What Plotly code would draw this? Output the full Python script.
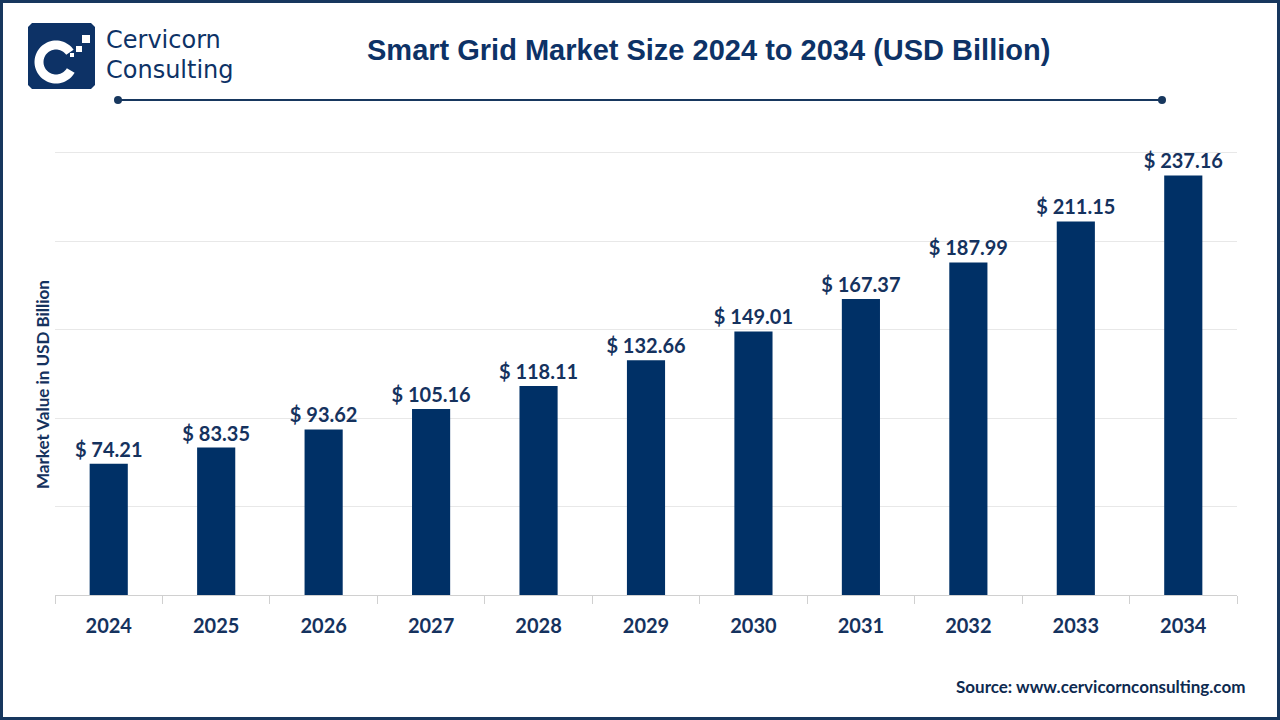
import numpy as np
import plotly.graph_objects as go

years = ["2024", "2025", "2026", "2027", "2028", "2029", "2030", "2031", "2032", "2033", "2034"]
values = [74.21, 83.35, 93.62, 105.16, 118.11, 132.66, 149.01, 167.37, 187.99, 211.15, 237.16]
labels = ["$ " + f"{v:.2f}" for v in values]

W, H = 1280, 720
L, R, T, B = 55, 1237, 151, 595
YMAX = 251
NAVY = "#003066"
TXT = "#15325e"


def px(x):
    return (x - L) / (R - L)


def py(y):
    return (B - y) / (B - T)


fig = go.Figure()
fig.add_trace(go.Bar(
    x=years, y=values, text=labels, textposition="outside", constraintext="none",
    textfont=dict(family="Lato", size=20, color=TXT, weight="bold"),
    marker=dict(color=NAVY, line=dict(width=0)), width=0.355,
    cliponaxis=False, hoverinfo="skip",
))

shapes = []
# outer frame
shapes.append(dict(type="rect", xref="paper", yref="paper", x0=px(1.5), x1=px(1278.5), y0=py(718.5), y1=py(1.5),
                   line=dict(color="#17375e", width=3), layer="above"))
# title underline with dots
shapes.append(dict(type="line", xref="paper", yref="paper", x0=px(118), x1=px(1162), y0=py(100), y1=py(100),
                   line=dict(color="#17375e", width=2)))
for cx in (118, 1162):
    shapes.append(dict(type="circle", xref="paper", yref="paper", x0=px(cx - 4), x1=px(cx + 4), y0=py(104), y1=py(96),
                       fillcolor="#17375e", line=dict(width=0)))

# logo square (rounded)
x0, y0, x1, y1, r = 28, 23, 95, 89, 4
pts = [(x0 + r, y0), (x1 - r, y0), (x1, y0 + r), (x1, y1 - r), (x1 - r, y1), (x0 + r, y1), (x0, y1 - r), (x0, y0 + r)]
path = "M " + " L ".join(f"{px(a)},{py(b)}" for a, b in pts) + " Z"
shapes.append(dict(type="path", xref="paper", yref="paper", path=path, fillcolor="#0d3266", line=dict(width=0)))

# C arc
cx, cy, rad = 56, 62, 17
ang = np.linspace(np.deg2rad(35), np.deg2rad(330), 60)
outer = [(cx + (rad + 4.5) * np.cos(a), cy - (rad + 4.5) * np.sin(a)) for a in ang]
inner = [(cx + (rad - 4.5) * np.cos(a), cy - (rad - 4.5) * np.sin(a)) for a in ang[::-1]]
cp = outer + inner
path = "M " + " L ".join(f"{px(a)},{py(b)}" for a, b in cp) + " Z"
shapes.append(dict(type="path", xref="paper", yref="paper", path=path, fillcolor="white", line=dict(width=0)))
for (a, b, s) in [(82, 35, 8), (76, 46, 6), (70, 53, 4)]:
    shapes.append(dict(type="rect", xref="paper", yref="paper", x0=px(a), x1=px(a + s), y0=py(b + s), y1=py(b),
                       fillcolor="white", line=dict(width=0)))

annotations = [
    dict(text="Smart Grid Market Size 2024 to 2034 (USD Billion)", x=px(708), y=py(50), xref="paper", yref="paper",
         showarrow=False, xanchor="center", yanchor="middle",
         font=dict(family="Liberation Sans", size=29, color="#0d3266", weight="bold")),
    dict(text="Cervicorn", x=px(105), y=py(55), xref="paper", yref="paper", showarrow=False,
         xanchor="left", yanchor="bottom", borderpad=0,
         font=dict(family="DejaVu Sans", size=24, color="#0d3266")),
    dict(text="Consulting", x=px(105), y=py(55), xref="paper", yref="paper", showarrow=False,
         xanchor="left", yanchor="top", borderpad=0,
         font=dict(family="DejaVu Sans", size=24, color="#0d3266")),
    dict(text="Market Value in USD Billion", x=px(42), y=py(385), xref="paper", yref="paper",
         showarrow=False, xanchor="center", yanchor="middle", textangle=-90,
         font=dict(family="Lato", size=17, color=TXT, weight="bold")),
    dict(text="Source: www.cervicornconsulting.com", x=px(1247), y=py(686), xref="paper", yref="paper",
         showarrow=False, xanchor="right", yanchor="middle",
         font=dict(family="Lato", size=17, color="#0d2a50", weight="bold")),
]

fig.update_layout(
    width=W, height=H,
    margin=dict(l=L, r=W - R, t=T, b=H - B, pad=0),
    paper_bgcolor="white", plot_bgcolor="white",
    shapes=shapes, annotations=annotations, showlegend=False,
    xaxis=dict(type="category", showgrid=False, showline=True, linecolor="#d0d0d0", linewidth=1,
               ticks="outside", tickson="boundaries", ticklen=8, tickcolor="#d0d0d0",
               ticklabelstandoff=13,
               tickfont=dict(family="Lato", size=20, color=TXT, weight="bold"), fixedrange=True),
    yaxis=dict(range=[0, YMAX], dtick=50, showgrid=True, gridcolor="#e8e8e8", gridwidth=1,
               showticklabels=False, zeroline=False, fixedrange=True),
)

fig.write_html("out.html", config={"displayModeBar": False},
               post_script="document.body.style.margin='0';document.body.style.overflow='hidden';")
